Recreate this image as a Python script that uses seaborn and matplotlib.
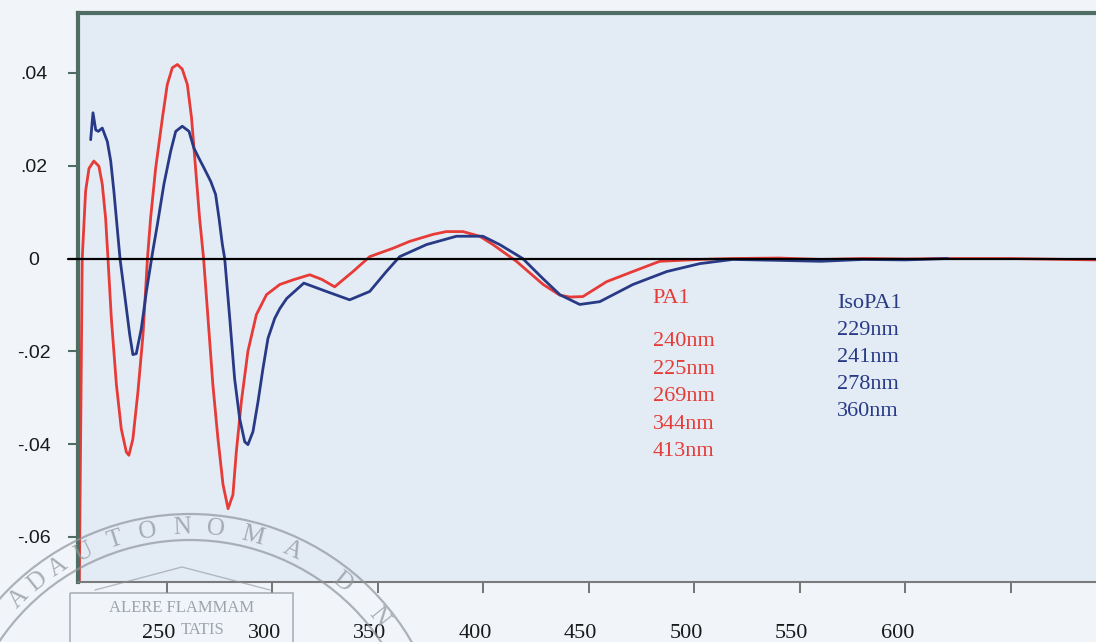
"""
CD spectra of PA1 and IsoPA1 redrawn with seaborn
... and written to out.png.
"""

import numpy as np
import pandas as pd
import seaborn as sns
import matplotlib.pyplot as plt
from matplotlib.patches import Circle, Rectangle
from matplotlib.transforms import ScaledTranslation

output_file = "out.png"

# PA1 (red) spectrum
pa1_nm = [208.6, 210.0, 211.6, 213.2, 215.5, 217.9, 219.5, 221.1, 222.2, 223.8,
          226.2, 228.5, 230.9, 232.1, 234.0, 236.4, 238.8, 240.9, 242.4, 244.8,
          248.0, 250.3, 252.7, 255.1, 257.4, 259.8, 261.8, 263.7, 265.6, 267.5,
          269.6, 271.9, 274.3, 276.7, 279.1, 281.4, 283.0, 285.4, 288.5, 292.5,
          297.3, 303.6, 309.9, 317.8, 323.5, 329.6, 338.3, 346.2, 357.2, 365.2,
          376.2, 382.5, 390.4, 398.3, 404.6, 415.7, 428.4, 436.3, 441.0, 447.2,
          458.4, 470.9, 483.6, 502.6, 518.2, 540.0, 560.0, 580.0, 600.0, 620.0,
          650.0, 690.0]
pa1_cd = [-0.0720, 0.0000, 0.0145, 0.0194, 0.0210, 0.0199, 0.0160, 0.0086, 0.0000, -0.0129,
          -0.0272, -0.0367, -0.0417, -0.0424, -0.0389, -0.0287, -0.0164, 0.0000, 0.0087, 0.0195,
          0.0303, 0.0375, 0.0411, 0.0418, 0.0408, 0.0375, 0.0303, 0.0195, 0.0087, 0.0000,
          -0.0129, -0.0272, -0.0388, -0.0487, -0.0539, -0.0509, -0.0417, -0.0308, -0.0200, -0.0121,
          -0.0078, -0.0056, -0.0046, -0.0035, -0.0045, -0.0061, -0.0028, 0.0004, 0.0022, 0.0037,
          0.0052, 0.0058, 0.0058, 0.0048, 0.0030, -0.0006, -0.0056, -0.0079, -0.0083, -0.0082,
          -0.0050, -0.0028, -0.0006, -0.0002, 0.0000, 0.0001, -0.0002, 0.0000, -0.0001, 0.0000,
          0.0000, -0.0003]

# IsoPA1 (blue) spectrum
iso_nm = [214.0, 215.1, 216.4, 217.6, 219.5, 221.9, 223.5, 225.0, 226.6, 227.9,
          230.1, 232.5, 234.0, 235.6, 238.0, 240.4, 243.4, 245.6, 248.7, 251.9,
          254.3, 257.4, 260.6, 262.9, 265.3, 267.7, 270.9, 273.2, 274.8, 276.4,
          277.5, 279.9, 282.2, 284.6, 287.0, 288.5, 290.9, 293.3, 295.6, 298.0,
          301.2, 303.6, 306.9, 315.0, 325.7, 336.7, 346.2, 354.1, 360.4, 373.1,
          387.3, 399.8, 407.8, 418.7, 428.2, 436.3, 445.7, 455.2, 470.9, 487.0,
          502.6, 518.2, 540.0, 560.0, 580.0, 600.0, 620.0]
iso_cd = [0.0256, 0.0314, 0.0277, 0.0274, 0.0281, 0.0252, 0.0210, 0.0145, 0.0065, 0.0000,
          -0.0078, -0.0164, -0.0207, -0.0205, -0.0151, -0.0071, 0.0015, 0.0073, 0.0160, 0.0231,
          0.0274, 0.0285, 0.0274, 0.0238, 0.0216, 0.0195, 0.0166, 0.0138, 0.0087, 0.0030,
          0.0000, -0.0129, -0.0259, -0.0345, -0.0395, -0.0401, -0.0373, -0.0308, -0.0238, -0.0172,
          -0.0129, -0.0108, -0.0086, -0.0053, -0.0071, -0.0089, -0.0071, -0.0028, 0.0004, 0.0030,
          0.0048, 0.0048, 0.0030, 0.0000, -0.0043, -0.0078, -0.0099, -0.0093, -0.0056, -0.0028,
          -0.0011, -0.0002, -0.0004, -0.0006, -0.0002, -0.0003, 0.0000]

x_ticks = [250, 300, 350, 400, 450, 500, 550, 600, 650]
x_labels = ["250", "300", "350", "400", "450", "500", "550", "600", ""]
y_ticks = [0.04, 0.02, 0.0, -0.02, -0.04, -0.06]
y_labels = [".04", ".02", "0", "-.02", "-.04", "-.06"]

pa1_bands = ["240nm", "225nm", "269nm", "344nm", "413nm"]
iso_bands = ["229nm", "241nm", "278nm", "360nm"]

red = "#e63b36"
blue = "#283a86"
frame = "#4f6d62"

df = pd.concat([
    pd.DataFrame({"nm": pa1_nm, "cd": pa1_cd, "sample": "PA1"}),
    pd.DataFrame({"nm": iso_nm, "cd": iso_cd, "sample": "IsoPA1"}),
])

sns.set_theme(style="white")
plt.rcParams["font.family"] = ["Liberation Sans", "DejaVu Sans"]

fig = plt.figure(figsize=(10.96, 6.42), dpi=100, facecolor="#f1f5fa")
ax = fig.add_axes([78 / 1096, 1 - 582 / 642, 1 - 78 / 1096, (582 - 13) / 642])
ax.set_facecolor("#e3ebf5")

sns.lineplot(data=df, x="nm", y="cd", hue="sample", palette={"PA1": red, "IsoPA1": blue},
             estimator=None, sort=False, lw=2.0, legend=False, ax=ax,
             solid_joinstyle="round", solid_capstyle="round")
ax.axhline(0, xmin=-0.01, color="black", lw=1.6, clip_on=False, zorder=4)

ax.set_xlim(208, 690.3)
ax.set_ylim(-0.0697, 0.0529)
ax.set_xlabel("")
ax.set_ylabel("")

# frame like the scanned instrument output
for side in ["left", "top"]:
    ax.spines[side].set_color(frame)
    ax.spines[side].set_linewidth(3)
ax.spines["bottom"].set_color("#7a7a7a")
ax.spines["bottom"].set_linewidth(1.5)
ax.spines["right"].set_visible(False)

ax.set_xticks(x_ticks)
ax.set_xticklabels(x_labels, fontfamily="Liberation Serif", fontsize=16, color="#1a1a1a")
ax.set_yticks(y_ticks)
ax.set_yticklabels(y_labels, fontsize=14, color="#1a1a1a")
ax.tick_params(axis="x", bottom=True, direction="out", length=8, width=1.3,
               color="#6a6a6a", pad=22)
ax.tick_params(axis="y", left=True, direction="out", length=7, width=1.5,
               color=frame, pad=25)
for lbl in ax.get_yticklabels():
    lbl.set_horizontalalignment("center")
shift = ScaledTranslation(-8 / 100, 0, fig.dpi_scale_trans)
for lbl in ax.get_xticklabels():
    lbl.set_transform(lbl.get_transform() + shift)

# band annotations
ax.text(480.3, -0.0086, "PA1", color=red, fontsize=16, family="Liberation Serif",
        va="center", ha="left")
for i, band in enumerate(pa1_bands):
    ax.annotate(band, xy=(480.3, -0.0179), xytext=(0, -i * 27.5), textcoords="offset pixels",
                color=red, fontsize=16, family="Liberation Serif", va="center", ha="left")
iso_lines = ["IsoPA1"] + iso_bands
for i, line in enumerate(iso_lines):
    ax.annotate(line, xy=(567.5, -0.0097), xytext=(0, -i * 27), textcoords="offset pixels",
                color=blue, fontsize=16, family="Liberation Serif", va="center", ha="left")

# faint university seal watermark in the lower left corner
wm = fig.add_axes([0, 0, 1, 1], zorder=5)
wm.set_xlim(0, 1096)
wm.set_ylim(642, 0)
wm.axis("off")
wm.patch.set_alpha(0)
seal_col = "#8f959c"
for r in [256, 230]:
    wm.add_patch(Circle((190, 770), r, fill=False, ec=seal_col, lw=1.6, alpha=0.7))
seal_letters = [("A", 135), ("D", 129), ("A", 123), ("U", 116), ("T", 108), ("O", 100),
                ("N", 92), ("O", 84), ("M", 75), ("A", 65), ("D", 51), ("N", 39)]
for ch, ang in seal_letters:
    th = np.deg2rad(ang)
    wm.text(190 + 242 * np.cos(th), 770 - 242 * np.sin(th), ch, rotation=ang - 90,
            ha="center", va="center", fontsize=18, family="Liberation Serif",
            color=seal_col, alpha=0.75)
wm.add_patch(Rectangle((70, 593), 223, 60, fill=False, ec=seal_col, lw=1.2, alpha=0.7))
wm.plot([95, 182, 270], [590, 567, 590], color=seal_col, lw=1.0, alpha=0.6)
wm.text(182, 608, "ALERE FLAMMAM", ha="center", va="center", fontsize=12,
        family="Liberation Serif", color=seal_col, alpha=0.85)
wm.text(203, 630, "TATIS", ha="center", va="center", fontsize=12,
        family="Liberation Serif", color=seal_col, alpha=0.85)

plt.savefig(output_file, dpi=100, facecolor=fig.get_facecolor())
plt.close()

print(f"Spectrum saved to {output_file}")
